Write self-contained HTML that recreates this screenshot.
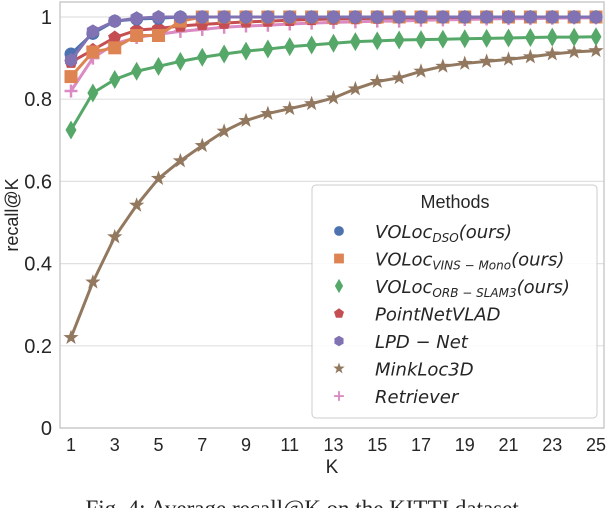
<!DOCTYPE html>
<html><head><meta charset="utf-8"><style>
body{margin:0;background:#fff;}
svg text{font-family:"Liberation Sans",sans-serif;fill:#262626;}
</style></head><body>
<svg width="608" height="508" viewBox="0 0 608 508" xmlns="http://www.w3.org/2000/svg">
<g id="grid"></g>
<rect x="60" y="2" width="544" height="426" fill="none" stroke="#cccccc" stroke-width="1.5"/>
<g id="ticks"></g>
<g id="series"></g>
<text x="332" y="473" font-size="19" text-anchor="middle">K</text>
<text x="0" y="0" font-size="18" text-anchor="middle" transform="translate(18,215) rotate(-90)">recall@K</text>
<g>
<rect x="312" y="185" width="285" height="233" rx="4" fill="#fff" fill-opacity="0.85" stroke="#cccccc"/>
<text x="455" y="208" font-size="18" text-anchor="middle">Methods</text>
<g id="legend-items"></g>
</g>
<text x="305" y="516" font-size="23" text-anchor="middle" style="font-family:'Liberation Serif',serif">Fig. 4: Average recall@K on the KITTI dataset.</text>
</svg>
<script>
const ks=[1,2,3,4,5,6,7,8,9,10,11,12,13,14,15,16,17,18,19,20,21,22,23,24,25];
const yTicks=[0,0.2,0.4,0.6,0.8,1];
const yTickLabels=["0","0.2","0.4","0.6","0.8","1"];
const xTicks=[1,3,5,7,9,11,13,15,17,19,21,23,25];
const dso=[0.91,0.96,0.99,0.995,0.997,1,1,1,1,1,1,1,1,1,1,1,1,1,1,1,1,1,1,1,1];
const vins=[0.855,0.915,0.925,0.955,0.955,0.99,1,1,1,1,1,1,1,1,1,1,1,1,1,1,1,1,1,1,1];
const orb=[0.725,0.815,0.848,0.868,0.88,0.892,0.902,0.91,0.917,0.922,0.928,0.932,0.936,0.94,0.942,0.944,0.945,0.946,0.947,0.948,0.949,0.95,0.951,0.951,0.952];
const pnv=[0.89,0.92,0.95,0.968,0.972,0.978,0.982,0.985,0.988,0.99,0.992,0.994,0.995,0.996,0.997,0.998,0.998,0.999,0.999,1,1,1,1,1,1];
const lpd=[0.895,0.965,0.99,0.997,1,1,1,1,1,1,1,1,1,1,1,1,1,1,1,1,1,1,1,1,1];
const mink=[0.22,0.355,0.465,0.542,0.607,0.65,0.687,0.722,0.748,0.765,0.777,0.789,0.803,0.825,0.843,0.852,0.868,0.88,0.887,0.892,0.897,0.903,0.91,0.915,0.918];
const retr=[0.82,0.9,0.935,0.95,0.958,0.965,0.97,0.975,0.978,0.98,0.983,0.985,0.987,0.988,0.99,0.99,0.992,0.993,0.994,0.995,0.996,0.996,0.997,0.998,0.998];
const NS="http://www.w3.org/2000/svg";
const X=k=>71+(k-1)*(596-71)/24;
const Y=v=>428-v*411;
function mk(t,a,p){const e=document.createElementNS(NS,t);for(const k in a)e.setAttribute(k,a[k]);p.appendChild(e);return e;}
const grid=document.getElementById('grid'),ticks=document.getElementById('ticks');
yTicks.forEach((v,i)=>{
 const l=mk('line',{x1:60,x2:604,y1:Y(v),y2:Y(v),stroke:'#e0e0e0','stroke-width':1.2},grid);
 
 
 const t=mk('text',{x:52,y:Y(v)+7,'font-size':20,'text-anchor':'end'},ticks);
 t.textContent=yTickLabels[i];
 
 
});
xTicks.forEach(k=>{
 const t=mk('text',{x:X(k),y:451,'font-size':18,'text-anchor':'middle'},ticks);
 t.textContent=k;
 
 
});
function marker(type,x,y,c,s,p){
 s=s||1;
 if(type==='circle')return mk('circle',{cx:x,cy:y,r:6.5*s,fill:c},p);
 if(type==='square')return mk('rect',{x:x-6.5*s,y:y-6.5*s,width:13*s,height:13*s,fill:c},p);
 if(type==='diamond')return mk('polygon',{points:`${x},${y-9.5*s} ${x+5.5*s},${y} ${x},${y+9.5*s} ${x-5.5*s},${y}`,fill:c},p);
 if(type==='pentagon'||type==='hexagon'){const n=type==='pentagon'?5:6;let pts=[];for(let i=0;i<n;i++){const a=-Math.PI/2+i*2*Math.PI/n;pts.push((x+7*s*Math.cos(a))+','+(y+7*s*Math.sin(a)));}return mk('polygon',{points:pts.join(' '),fill:c},p);}
 if(type==='star'){let pts=[];for(let i=0;i<10;i++){const r=i%2?3.2*s:8*s;const a=-Math.PI/2+i*Math.PI/5;pts.push((x+r*Math.cos(a))+','+(y+r*Math.sin(a)));}return mk('polygon',{points:pts.join(' '),fill:c},p);}
 if(type==='plus')return mk('path',{d:`M${x-6.5*s},${y}H${x+6.5*s}M${x},${y-6.5*s}V${y+6.5*s}`,stroke:c,'stroke-width':2.5*s,fill:'none'},p);
}
const series=[
 {n:'mink',d:mink,c:'#937860',m:'star'},
 {n:'orb',d:orb,c:'#55a868',m:'diamond'},
 {n:'retr',d:retr,c:'#da8bc3',m:'plus'},
 {n:'pnv',d:pnv,c:'#c44e52',m:'pentagon'},
 {n:'vins',d:vins,c:'#dd8452',m:'square'},
 {n:'dso',d:dso,c:'#4c72b0',m:'circle'},
 {n:'lpd',d:lpd,c:'#8172b3',m:'hexagon'}
];
const sg=document.getElementById('series');
series.forEach(s=>{
 const g=mk('g',{},sg);
 
 
 mk('polyline',{points:s.d.map((v,i)=>X(ks[i])+','+Y(v)).join(' '),fill:'none',stroke:s.c,'stroke-width':3,'stroke-linejoin':'round'},g);
 s.d.forEach((v,i)=>{const e=marker(s.m,X(ks[i]),Y(v),s.c,1,g);
  
  });
});
const leg=document.getElementById('legend-items');
const legendItems=[
 ['circle','#4c72b0','VOLoc','DSO','(ours)'],
 ['square','#dd8452','VOLoc','VINS − Mono','(ours)'],
 ['diamond','#55a868','VOLoc','ORB − SLAM3','(ours)'],
 ['pentagon','#c44e52','PointNetVLAD','',''],
 ['hexagon','#8172b3','LPD − Net','',''],
 ['star','#937860','MinkLoc3D','',''],
 ['plus','#da8bc3','Retriever','','']
];
legendItems.forEach((it,i)=>{
 const y=231+i*27.5;
 const g=mk('g',{},leg);
 
 
 marker(it[0],339,y,it[1],0.75,g);
 const t=mk('text',{x:375,y:y+7,'font-size':18,'font-style':'italic',style:"font-family:'DejaVu Sans',sans-serif"},g);
 t.appendChild(document.createTextNode(it[2]));
 if(it[3]){const ts=mk('tspan',{'font-size':12,dy:4},t);ts.textContent=it[3];
  const t2=mk('tspan',{dy:-4},t);t2.textContent=it[4];}
});
</script>
</body></html>
